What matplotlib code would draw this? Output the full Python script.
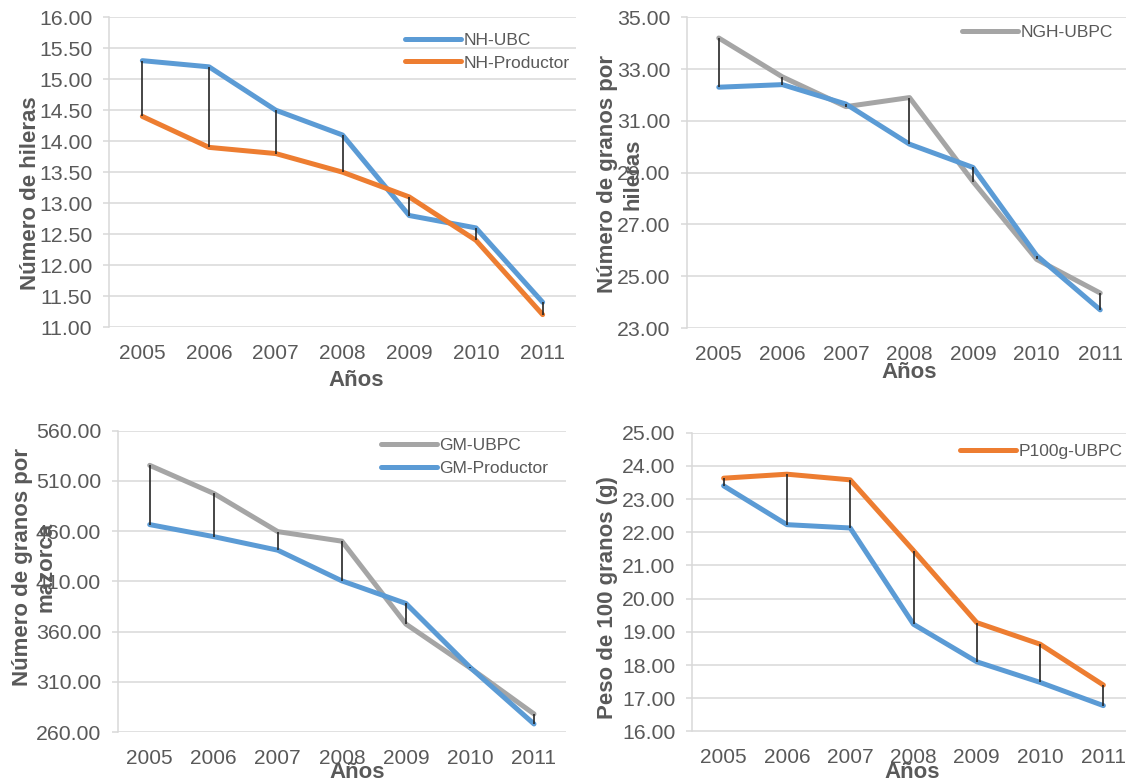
import matplotlib
matplotlib.use("Agg")
import matplotlib.pyplot as plt

plt.rcParams['font.family'] = ['Liberation Sans', 'DejaVu Sans']

# data
years = ['2005', '2006', '2007', '2008', '2009', '2010', '2011']

nh_ubc = [15.3, 15.2, 14.5, 14.1, 12.8, 12.6, 11.4]
nh_prod = [14.4, 13.9, 13.8, 13.5, 13.1, 12.4, 11.2]

ngh_ubpc = [34.2, 32.7, 31.55, 31.9, 28.65, 25.65, 24.35]
ngh_prod = [32.3, 32.4, 31.65, 30.1, 29.2, 25.8, 23.7]

gm_ubpc = [525.5, 497.5, 459.5, 450.0, 367.5, 324.0, 278.0]
gm_prod = [466.5, 454.5, 441.0, 410.5, 388.0, 324.5, 268.0]

p100_ubpc = [23.63, 23.75, 23.58, 21.45, 19.28, 18.63, 17.4]
p100_prod = [23.4, 22.23, 22.13, 19.23, 18.1, 17.48, 16.78]

BLUE = '#5B9BD5'
ORANGE = '#ED7D31'
GRAY = '#A5A5A5'
GRID = '#D9D9D9'
TXT = '#595959'

W, H = 1126, 782
fig = plt.figure(figsize=(W / 100, H / 100), dpi=100)


def px_axes(left, top, right, bottom):
    return fig.add_axes([left / W, 1 - bottom / H, (right - left) / W, (bottom - top) / H])


def style(ax, lo, hi, step):
    x = list(range(len(years)))
    ax.set_xlim(-0.5, len(years) - 0.5)
    ax.set_ylim(lo, hi)
    ticks = []
    v = lo
    while v <= hi + 1e-9:
        ticks.append(v)
        v += step
    ax.set_yticks(ticks)
    ax.set_yticklabels([f'{t:.2f}' for t in ticks])
    ax.set_xticks(x)
    ax.set_xticklabels(years)
    ax.grid(axis='y', color=GRID, lw=1.1, zorder=0)
    ax.set_axisbelow(True)
    for s in ['top', 'right', 'bottom']:
        ax.spines[s].set_visible(False)
    ax.spines['left'].set_color(GRID)
    ax.spines['left'].set_linewidth(1.1)
    ax.tick_params(axis='y', length=4, color=GRID, width=1.1, pad=8,
                   labelsize=15.3, labelcolor=TXT)
    ax.tick_params(axis='x', length=0, pad=12, labelsize=15, labelcolor=TXT)


def plot_pair(ax, a, b, ca, cb, za, zb):
    x = list(range(len(years)))
    la, = ax.plot(x, a, color=ca, lw=3.6, solid_capstyle='round',
                  solid_joinstyle='round', zorder=za)
    lb, = ax.plot(x, b, color=cb, lw=3.6, solid_capstyle='round',
                  solid_joinstyle='round', zorder=zb)
    lows = [min(p, q) for p, q in zip(a, b)]
    highs = [max(p, q) for p, q in zip(a, b)]
    ax.vlines(x, lows, highs, color='#262626', lw=1.2, zorder=5)
    return la, lb


def legend(ax, handles, labels, x, ymid):
    ax.legend(handles, labels, loc='center left',
              bbox_to_anchor=(x / W, 1 - ymid / H), bbox_transform=fig.transFigure,
              frameon=False, fontsize=12.5, labelcolor=TXT, handlelength=3.2,
              handletextpad=0.15, labelspacing=0.45, borderpad=0, borderaxespad=0)


def title(x, y, s, rot=0, ls=1.0):
    fig.text(x / W, 1 - y / H, s, ha='center', va='center', rotation=rot,
             fontsize=16, fontweight='bold', color=TXT, linespacing=ls)


# panel 1
ax1 = px_axes(109, 17.3, 576, 327)
style(ax1, 11, 16, 0.5)
l1, l2 = plot_pair(ax1, nh_ubc, nh_prod, BLUE, ORANGE, 3, 4)
legend(ax1, [l1, l2], ['NH-UBC', 'NH-Productor'], 405, 51.5)
title(31, 193, 'Número de hileras', rot=90)
title(356, 381, 'Años')

# panel 2
ax2 = px_axes(687, 17.3, 1132, 328)
style(ax2, 23, 35, 2)
g1, b1 = plot_pair(ax2, ngh_ubpc, ngh_prod, GRAY, BLUE, 3, 4)
legend(ax2, [g1], ['NGH-UBPC'], 962, 32)
title(620, 174, 'Número de granos por\nhileras', rot=90, ls=1.3)
title(909, 372, 'Años')

# panel 3
ax3 = px_axes(117.7, 430.7, 566, 732)
style(ax3, 260, 560, 50)
g2, b2 = plot_pair(ax3, gm_ubpc, gm_prod, GRAY, BLUE, 3, 4)
legend(ax3, [g2, b2], ['GM-UBPC', 'GM-Productor'], 381, 457)
title(34, 567, 'Número de granos por\nmazorca', rot=90, ls=1.15)
title(357, 773, 'Años')

# panel 4
ax4 = px_axes(692, 432.7, 1135, 731.5)
style(ax4, 16, 25, 1)
o4, b4 = plot_pair(ax4, p100_ubpc, p100_prod, ORANGE, BLUE, 4, 3)
legend(ax4, [o4], ['P100g-UBPC'], 960, 451)
title(608, 598, 'Peso de 100 granos (g)', rot=90)
title(912, 773, 'Años')

fig.savefig('out.png', dpi=100)
